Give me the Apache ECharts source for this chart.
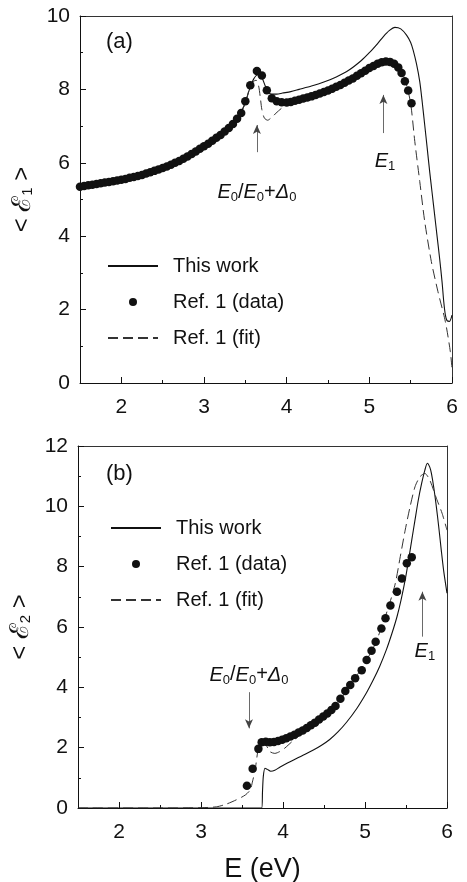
<!DOCTYPE html>
<html>
<head>
<meta charset="utf-8">
<title>eps1 / eps2</title>
<script src="https://cdn.jsdelivr.net/npm/echarts@6/dist/echarts.min.js"></script>
<style>
  html, body { margin: 0; padding: 0; background: #fff; }
  #chart { width: 467px; height: 882px; }
</style>
</head>
<body>
<div id="chart"></div>
<script>
// ---- panel (a) : <eps1> ----
var aThisWork = [[1.50,5.33],[1.60,5.37],[1.70,5.41],[1.80,5.45],[1.90,5.49],[2.00,5.53],[2.10,5.58],[2.20,5.63],
  [2.30,5.70],[2.40,5.77],[2.50,5.85],[2.60,5.94],[2.70,6.04],[2.80,6.16],[2.90,6.30],[3.00,6.44],[3.10,6.59],
  [3.20,6.76],[3.30,6.95],[3.40,7.20],[3.45,7.38],[3.50,7.65],[3.55,8.00],[3.60,8.28],[3.65,8.40],[3.70,8.32],
  [3.74,8.10],[3.78,7.92],[3.82,7.87],[3.88,7.87],[3.95,7.90],[4.05,7.94],[4.15,8.00],[4.30,8.09],[4.45,8.20],
  [4.60,8.34],[4.75,8.52],[4.90,8.78],[5.00,9.00],[5.10,9.25],[5.17,9.44],[5.24,9.60],[5.31,9.69],[5.38,9.65],
  [5.45,9.48],[5.50,9.28],[5.53,9.07],[5.57,8.70],[5.61,8.21],[5.64,7.65],[5.67,7.03],[5.70,6.40],[5.73,5.76],
  [5.76,5.17],[5.79,4.58],[5.82,3.99],[5.85,3.40],[5.88,2.75],[5.90,2.22],[5.92,1.85],[5.94,1.70],[5.97,1.68],
  [6.00,1.85]];
var aRefData = [[1.50,5.35],[1.55,5.37],[1.60,5.39],[1.65,5.40],[1.70,5.42],[1.75,5.44],[1.80,5.46],[1.85,5.48],
  [1.90,5.50],[1.95,5.52],[2.00,5.54],[2.05,5.56],[2.10,5.59],[2.15,5.61],[2.20,5.64],[2.25,5.67],[2.30,5.71],
  [2.35,5.74],[2.40,5.78],[2.45,5.82],[2.50,5.86],[2.55,5.90],[2.60,5.95],[2.65,6.00],[2.70,6.05],[2.75,6.11],
  [2.80,6.17],[2.85,6.24],[2.90,6.31],[2.95,6.38],[3.00,6.45],[3.05,6.52],[3.10,6.60],[3.15,6.68],[3.20,6.76],
  [3.25,6.85],[3.30,6.95],[3.35,7.06],[3.40,7.20],[3.45,7.36],[3.50,7.68],[3.56,8.11],[3.64,8.50],[3.70,8.38],
  [3.76,7.98],[3.82,7.76],[3.88,7.68],[3.94,7.65],[4.00,7.64],[4.05,7.66],[4.10,7.69],[4.15,7.72],[4.20,7.75],
  [4.25,7.78],[4.30,7.81],[4.35,7.85],[4.40,7.89],[4.45,7.93],[4.50,7.97],[4.55,8.02],[4.60,8.07],[4.65,8.12],
  [4.70,8.18],[4.75,8.24],[4.80,8.30],[4.85,8.37],[4.90,8.44],[4.95,8.51],[5.00,8.58],[5.05,8.64],[5.10,8.70],
  [5.15,8.74],[5.20,8.76],[5.25,8.75],[5.30,8.70],[5.35,8.60],[5.39,8.45],[5.43,8.22],[5.47,7.97],[5.51,7.62]];
var aRefFit = [[1.50,5.35],[1.70,5.42],[1.90,5.50],[2.10,5.59],[2.30,5.71],[2.50,5.86],[2.70,6.05],[2.90,6.31],
  [3.10,6.60],[3.30,6.95],[3.40,7.20],[3.50,7.62],[3.55,8.02],[3.60,8.22],[3.63,8.25],[3.66,8.10],[3.68,7.80],
  [3.70,7.45],[3.73,7.22],[3.77,7.16],[3.81,7.22],[3.87,7.35],[3.94,7.49],[4.00,7.58],[4.06,7.63],[4.15,7.70],
  [4.30,7.80],[4.50,7.96],[4.70,8.17],[4.90,8.43],[5.10,8.69],[5.20,8.75],[5.30,8.70],[5.40,8.45],[5.45,8.12],
  [5.50,7.62],[5.55,6.58],[5.61,5.49],[5.67,4.40],[5.75,3.31],[5.83,2.49],[5.92,1.67],[5.98,0.85],[6.00,0.40]];

// ---- panel (b) : <eps2> ----
var bThisWork = [[1.50,0],[2.50,0],[3.00,0],[3.74,0],[3.75,0.55],[3.76,1.05],[3.78,1.32],[3.81,1.28],[3.85,1.22],
  [3.90,1.25],[3.96,1.35],[4.06,1.50],[4.17,1.65],[4.27,1.78],[4.37,1.92],[4.47,2.08],[4.57,2.27],[4.67,2.52],
  [4.78,2.86],[4.90,3.30],[5.02,3.83],[5.10,4.24],[5.18,4.70],[5.26,5.24],[5.33,5.80],[5.39,6.34],[5.44,6.90],
  [5.49,7.56],[5.53,8.20],[5.57,8.88],[5.61,9.55],[5.65,10.21],[5.69,10.75],[5.73,11.20],[5.76,11.43],
  [5.79,11.30],[5.81,11.09],[5.84,10.60],[5.87,9.99],[5.90,9.30],[5.93,8.55],[5.96,7.85],[6.00,7.12]];
var bRefData = [[3.56,0.74],[3.63,1.30],[3.70,1.96],[3.74,2.18],[3.79,2.20],[3.84,2.18],[3.89,2.19],[3.94,2.22],
  [3.99,2.26],[4.04,2.31],[4.09,2.37],[4.14,2.43],[4.19,2.50],[4.24,2.57],[4.29,2.65],[4.34,2.74],[4.39,2.83],
  [4.44,2.93],[4.49,3.03],[4.54,3.13],[4.59,3.25],[4.64,3.38],[4.70,3.62],[4.76,3.88],[4.82,4.08],[4.88,4.30],
  [4.96,4.57],[5.02,4.91],[5.08,5.21],[5.13,5.51],[5.20,5.95],[5.25,6.29],[5.31,6.71],[5.39,7.17],[5.45,7.61],
  [5.51,8.11],[5.57,8.31]];
var bRefFit = [[1.50,0],[2.50,0],[3.00,0.01],[3.19,0.04],[3.31,0.13],[3.43,0.27],[3.54,0.43],[3.60,0.60],
  [3.63,0.90],[3.66,1.26],[3.70,1.98],[3.74,2.18],[3.79,2.10],[3.84,1.87],[3.90,1.81],[3.96,1.87],[4.02,1.98],
  [4.11,2.20],[4.20,2.40],[4.40,2.80],[4.60,3.27],[4.80,3.97],[5.00,4.82],[5.10,5.30],[5.20,5.97],[5.30,6.78],
  [5.37,7.45],[5.43,8.33],[5.49,9.21],[5.55,9.99],[5.61,10.65],[5.67,10.98],[5.73,11.09],[5.79,10.87],
  [5.87,10.27],[5.94,9.77],[6.00,9.21]];

// axes, legend, notes
var xTicks = [2, 3, 4, 5, 6];
var xHalfTicks = [2.5, 3.5, 4.5, 5.5];
var seriesNames = ['This work', 'Ref. 1 (data)', 'Ref. 1 (fit)'];
// arrows: [E, from, to]
var aArrows = [[3.64, 6.29, 7.03], [5.17, 6.81, 7.85]];
var bArrows = [[3.585, 3.84, 2.64], [5.70, 5.68, 7.17]];
// notes: [E, value, text]
var e0Text = '{i|E}{s|0}{n|/}{i|E}{s|0}{n|+}{i|Δ}{s|0}';
var e1Text = '{i|E}{s|1}';
var aNotes = [[3.64, 5.18, e0Text], [5.19, 6.05, e1Text]];
var bNotes = [[3.585, 4.41, e0Text], [5.73, 5.18, e1Text]];

var FONT = '"Liberation Sans", Arial, sans-serif';
var INK = '#111';

var richSub = {
  i: { fontSize: 20, fontStyle: 'italic', fontFamily: FONT, color: INK, lineHeight: 20, verticalAlign: 'top' },
  n: { fontSize: 20, fontFamily: FONT, color: INK, lineHeight: 20, verticalAlign: 'top' },
  s: { fontSize: 13, fontFamily: FONT, color: INK, lineHeight: 13, padding: [10, 0, 0, 0] }
};

function bottomAxes(grid, withName) {
  return [{
    gridIndex: grid, type: 'value', position: 'bottom', min: 1.5, max: 6,
    axisLine: { show: true, onZero: false, lineStyle: { color: INK, width: 1 } },
    axisTick: { show: true, inside: true, length: 6, customValues: xTicks, lineStyle: { color: INK } },
    axisLabel: { show: true, customValues: xTicks, fontSize: 21, margin: 14, color: INK, fontFamily: FONT },
    splitLine: { show: false },
    name: withName ? 'E (eV)' : '', nameLocation: 'middle', nameGap: 48,
    nameTextStyle: { fontSize: 27, color: INK, fontFamily: FONT }
  }, {
    gridIndex: grid, type: 'value', position: 'bottom', min: 1.5, max: 6,
    axisLine: { show: false },
    axisTick: { show: true, inside: true, length: 3, customValues: xHalfTicks, lineStyle: { color: INK } },
    axisLabel: { show: false }, splitLine: { show: false }
  }, {
    gridIndex: grid, type: 'value', position: 'top', min: 1.5, max: 6,
    axisLine: { show: true, onZero: false, lineStyle: { color: '#333', width: 1 } },
    axisTick: { show: false }, axisLabel: { show: false }, splitLine: { show: false }
  }];
}

function sideAxes(grid, max, sub) {
  return [{
    gridIndex: grid, type: 'value', position: 'left', min: 0, max: max, interval: 2,
    axisLine: { show: true, onZero: false, lineStyle: { color: INK, width: 1 } },
    axisTick: { show: true, inside: true, length: 6, lineStyle: { color: INK } },
    minorTick: { show: true, splitNumber: 2, length: 3, lineStyle: { color: INK } },
    axisLabel: { fontSize: 21, margin: 10, color: INK, fontFamily: FONT },
    splitLine: { show: false },
    name: '< {e|ℰ}{s|' + sub + '} >', nameLocation: 'middle', nameRotate: 90, nameGap: 34,
    nameTextStyle: {
      fontSize: 24, color: INK, fontFamily: FONT,
      rich: {
        e: { fontSize: 26, fontFamily: FONT, color: INK },
        s: { fontSize: 15, fontFamily: FONT, color: INK, padding: [10, 0, 0, 0] }
      }
    }
  }, {
    gridIndex: grid, type: 'value', position: 'right', min: 0, max: max, interval: 2,
    axisLine: { show: true, onZero: false, lineStyle: { color: '#333', width: 1 } },
    axisTick: { show: false }, axisLabel: { show: false }, splitLine: { show: false }
  }];
}

function panelSeries(xi, yi, work, dots, fit, arrows, notes) {
  return [{
    name: seriesNames[0], type: 'line', xAxisIndex: xi, yAxisIndex: yi, data: work,
    symbol: 'none', smooth: 0.25, lineStyle: { color: INK, width: 1.1 }, itemStyle: { color: INK }, z: 3
  }, {
    name: seriesNames[1], type: 'scatter', xAxisIndex: xi, yAxisIndex: yi, data: dots,
    symbol: 'circle', symbolSize: 8.5, itemStyle: { color: INK, opacity: 1 }, z: 5
  }, {
    name: seriesNames[2], type: 'line', xAxisIndex: xi, yAxisIndex: yi, data: fit,
    symbol: 'none', smooth: 0.25, lineStyle: { color: '#333', width: 1, type: [10, 5] }, itemStyle: { color: '#333' }, z: 4
  }, {
    name: 'notes', type: 'scatter', xAxisIndex: xi, yAxisIndex: yi, silent: true,
    data: notes.map(function (n) { return { value: [n[0], n[1]], txt: n[2] }; }),
    symbolSize: 0, itemStyle: { color: INK, opacity: 1 },
    label: {
      show: true, position: 'inside', color: INK,
      formatter: function (p) { return p.data.txt; },
      rich: richSub
    },
    markLine: {
      silent: true, symbol: ['none', 'arrow'], symbolSize: [6, 9],
      lineStyle: { color: '#444', width: 0.8, type: 'solid', opacity: 1 },
      label: { show: false },
      data: arrows.map(function (a) { return [{ coord: [a[0], a[1]] }, { coord: [a[0], a[2]] }]; })
    }
  }];
}

var chart = echarts.init(document.getElementById('chart'), null, { renderer: 'canvas' });

// line entries get their legend marker hidden, only the stroke stays
var legendItems = [
  { name: seriesNames[0], itemStyle: { opacity: 0 } },
  { name: seriesNames[1] },
  { name: seriesNames[2], itemStyle: { opacity: 0 } }
];
var legendBase = {
  data: legendItems, orient: 'vertical', padding: 0, itemWidth: 50, itemHeight: 8, itemGap: 16,
  selectedMode: false, textStyle: { fontSize: 20, color: INK, fontFamily: FONT, padding: [0, 0, 0, 10] }
};

chart.setOption({
  animation: false,
  backgroundColor: '#fff',
  grid: [
    { left: 80, top: 16, width: 372, height: 367, outerBoundsMode: 'none' },
    { left: 78, top: 446, width: 369, height: 362, outerBoundsMode: 'none' }
  ],
  xAxis: bottomAxes(0, false).concat(bottomAxes(1, true)),
  yAxis: sideAxes(0, 10, '1').concat(sideAxes(1, 12, '2')),
  legend: [
    Object.assign({}, legendBase, { left: 107, top: 256 }),
    Object.assign({}, legendBase, { left: 110, top: 518 })
  ],
  graphic: [
    { type: 'text', left: 106, top: 31, style: { text: '(a)', font: '22px ' + FONT, fill: INK } },
    { type: 'text', left: 106, top: 463, style: { text: '(b)', font: '22px ' + FONT, fill: INK } }
  ],
  series: panelSeries(0, 0, aThisWork, aRefData, aRefFit, aArrows, aNotes)
    .concat(panelSeries(3, 2, bThisWork, bRefData, bRefFit, bArrows, bNotes))
});
</script>
</body>
</html>
